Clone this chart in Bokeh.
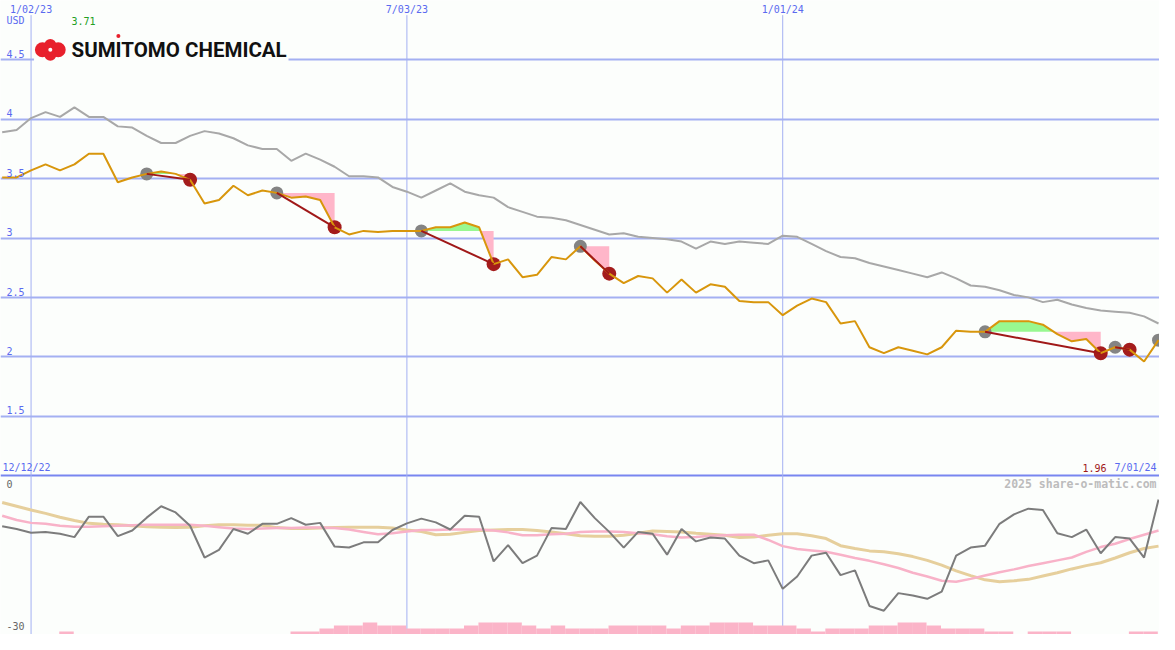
import numpy as np
from bokeh.plotting import figure
from bokeh.models import Range1d, Label
from bokeh.embed import file_html
from bokeh.resources import INLINE

# ---------------- data (weekly, week 0 = 1/02/23) ----------------
weeks = list(range(-2, 79))
price = [3.51, 3.51, 3.57, 3.62, 3.57, 3.62, 3.71, 3.71, 3.47, 3.51,
         3.54, 3.56, 3.54, 3.49, 3.29, 3.32, 3.44, 3.36, 3.40, 3.38,
         3.34, 3.35, 3.32, 3.09, 3.03, 3.06, 3.05, 3.06, 3.06, 3.06,
         3.09, 3.09, 3.13, 3.09, 2.78, 2.82, 2.67, 2.69, 2.84, 2.82,
         2.93, 2.81, 2.70, 2.62, 2.68, 2.66, 2.54, 2.65, 2.54, 2.61,
         2.59, 2.47, 2.46, 2.46, 2.35, 2.43, 2.49, 2.46, 2.28, 2.30,
         2.08, 2.03, 2.08, 2.05, 2.02, 2.08, 2.22, 2.21, 2.21, 2.30,
         2.30, 2.30, 2.27, 2.19, 2.13, 2.15, 2.03, 2.08, 2.06, 1.96,
         2.14]
avg_long = [3.89, 3.91, 4.01, 4.06, 4.02, 4.10, 4.02, 4.02, 3.94, 3.93,
            3.86, 3.80, 3.80, 3.86, 3.90, 3.88, 3.84, 3.78, 3.75, 3.75,
            3.65, 3.71, 3.66, 3.60, 3.52, 3.52, 3.51, 3.43, 3.39, 3.34,
            3.40, 3.46, 3.39, 3.36, 3.34, 3.26, 3.22, 3.18, 3.17, 3.15,
            3.11, 3.07, 3.03, 3.04, 3.01, 3.00, 2.99, 2.97, 2.91, 2.97,
            2.95, 2.97, 2.96, 2.95, 3.02, 3.01, 2.95, 2.89, 2.84, 2.83,
            2.79, 2.76, 2.73, 2.70, 2.67, 2.71, 2.66, 2.60, 2.59, 2.56,
            2.52, 2.50, 2.46, 2.48, 2.44, 2.41, 2.39, 2.38, 2.37, 2.34,
            2.28]
osc = [-7.8, -8.4, -9.2, -9.0, -9.4, -10.1, -5.8, -5.8, -9.9, -8.7,
       -6.0, -3.6, -4.9, -7.7, -14.4, -12.8, -8.4, -9.4, -7.3, -7.3,
       -6.1, -7.5, -7.1, -12.1, -12.3, -11.2, -11.2, -8.6, -7.2, -6.2,
       -7.0, -8.5, -5.6, -5.8, -15.2, -11.8, -15.6, -14.0, -8.2, -8.4,
       -2.7, -6.1, -9.0, -12.3, -9.0, -9.4, -13.8, -8.4, -11.0, -10.2,
       -10.4, -14.0, -15.6, -15.0, -21.0, -18.4, -14.0, -13.4, -18.1, -17.1,
       -24.6, -25.6, -21.9, -22.4, -23.1, -21.6, -14.0, -12.3, -11.9, -7.3,
       -5.3, -4.1, -4.4, -9.3, -10.1, -8.5, -13.5, -10.1, -10.4, -14.4,
       -2.2]
osc_fast = [-5.6, -6.5, -7.1, -7.3, -7.7, -7.9, -7.9, -7.8, -7.7, -7.6,
            -7.5, -7.5, -7.5, -7.5, -7.7, -8.0, -8.3, -8.4, -8.3, -8.2,
            -8.2, -8.1, -8.1, -8.2, -8.5, -9.0, -9.5, -9.3, -8.9, -8.6,
            -8.6, -8.5, -8.5, -8.5, -8.7, -9.1, -9.7, -9.7, -9.5, -9.4,
            -9.0, -8.9, -8.9, -9.0, -9.3, -9.5, -9.9, -10.2, -10.1, -9.8,
            -9.7, -9.6, -9.6, -10.7, -12.0, -12.6, -12.9, -13.2, -13.8, -14.5,
            -15.1, -15.8, -16.6, -17.6, -18.4, -19.3, -19.5, -18.9, -18.2, -17.5,
            -16.9, -16.2, -15.6, -15.0, -14.4, -13.2, -12.2, -11.5, -10.5, -9.6,
            -8.7]
osc_slow = [-2.8, -3.6, -4.4, -5.1, -5.9, -6.6, -7.2, -7.4, -7.5, -7.7,
            -7.9, -8.0, -8.1, -8.0, -7.7, -7.5, -7.5, -7.6, -7.6, -8.1,
            -8.3, -8.3, -8.2, -8.1, -8.0, -8.0, -8.0, -8.2, -8.6, -8.9,
            -9.6, -9.5, -9.1, -8.7, -8.6, -8.5, -8.5, -8.7, -9.0, -9.4,
            -9.8, -9.9, -9.9, -9.7, -9.3, -8.8, -8.9, -9.0, -9.3, -9.5,
            -9.7, -10.2, -10.1, -9.7, -9.4, -9.4, -9.8, -10.4, -11.9, -12.5,
            -13.0, -13.2, -13.6, -14.2, -15.0, -16.0, -17.2, -18.2, -19.1, -19.5,
            -19.3, -19.0, -18.3, -17.6, -16.8, -16.1, -15.5, -14.5, -13.4, -12.5,
            -12.0]
volume = [0, 0, 0, 0, 1, 0, 0, 0, 0, 0,
          0, 0, 0, 0, 0, 0, 0, 0, 0, 0,
          1, 1, 2, 3, 3, 4, 3, 3, 2, 2,
          2, 2, 3, 4, 4, 4, 3, 2, 3, 2,
          2, 2, 3, 3, 3, 3, 2, 3, 3, 4,
          4, 4, 3, 3, 3, 2, 1, 2, 2, 2,
          3, 3, 4, 4, 3, 2, 2, 2, 1, 1,
          0, 1, 1, 1, 0, 0, 0, 0, 1, 1,
          0]
buy_weeks = [8, 17, 27, 38, 66, 75, 78]
sell_weeks = [11, 21, 32, 40, 74, 76]
date_ticks = [0, 26, 52]
date_labels = ["1/02/23", "7/03/23", "1/01/24"]
price_ticks = [1.5, 2, 2.5, 3, 3.5, 4, 4.5]
price_labels = ["1.5", "2", "2.5", "3", "3.5", "4", "4.5"]
osc_ticks = [0, -30]
osc_labels = ["0", "-30"]
first_date, last_date = "12/12/22", "7/01/24"
max_label, min_label, currency = "3.71", "1.96", "USD"

# ---------------- geometry helpers (reference pixel -> data) ----------------
PXW = 14.654          # px per week
def X(px): return -31.0 / PXW + px / PXW
def Y(py): return 5.0 - py / 121.75
def O(py): return (501.0 - py) / 4.867
VOLPX = 3.08

BG = "#fcfefc"
GRID = "#a4b0f2"
LBL = "#5a6af0"

p = figure(width=1159, height=634, output_backend="svg", toolbar_location=None,
           x_axis_type=None, y_axis_type=None, min_border=0,
           x_range=Range1d(X(0), X(1175)), y_range=Range1d(Y(650), Y(0)))
p.extra_y_ranges = {"osc": Range1d(O(650), O(0)), "vol": Range1d(0, 650 / VOLPX)}
p.background_fill_color = BG
p.border_fill_color = BG
p.outline_line_color = None
p.grid.visible = False

def idx(k): return weeks.index(k)

# grid
p.hspan(y=price_ticks, line_color=GRID, line_width=2)
p.hspan(y=[Y(487)], line_color="#7886f0", line_width=2)
p.segment(x0=date_ticks, y0=[Y(15)] * 3, x1=date_ticks, y1=[Y(650)] * 3,
          line_color=GRID, line_width=1)

# logo
RED = "#e8202c"
p.quad(left=X(34), right=X(292), bottom=Y(64), top=Y(33), fill_color=BG, line_color=None)
p.scatter(x=[X(42.5), X(58.5)], y=[Y(50.5), Y(50.5)], size=15, marker="circle",
          fill_color=RED, line_color=None)
p.scatter(x=[X(50.5), X(50.5)], y=[Y(45.5), Y(55.5)], size=12, marker="circle",
          fill_color=RED, line_color=None)
p.scatter(x=[X(50.5)], y=[Y(50.5)], size=4, marker="circle", fill_color="white", line_color=None)
p.add_layout(Label(x=X(72), y=Y(51), text="SUMITOMO CHEMICAL", text_color="#111111",
                   text_font="Roboto", text_font_size="20.5px", text_font_style="bold",
                   text_baseline="middle"))
p.scatter(x=[X(119.5)], y=[Y(36.5)], size=4, marker="circle", fill_color=RED, line_color=None)

# signal fills
for ks, ke in zip(buy_weeks, sell_weeks):
    lvl = price[idx(ks)]
    xs, ps = [], []
    for k in range(ks, ke):
        p0, p1 = price[idx(k)], price[idx(k + 1)]
        xs.append(k); ps.append(p0)
        if (p0 - lvl) * (p1 - lvl) < 0:
            t = (lvl - p0) / (p1 - p0)
            xs.append(k + t); ps.append(lvl)
    xs.append(ke); ps.append(price[idx(ke)])
    ps = np.array(ps)
    lv = np.full(len(xs), lvl)
    p.varea(x=xs, y1=lv, y2=np.minimum(ps, lvl), fill_color="#ffb6c9")
    p.varea(x=xs, y1=lv, y2=np.maximum(ps, lvl), fill_color="#98f890")

# main lines
p.line(weeks, avg_long, line_color="#a8a8a8", line_width=2)
p.scatter(buy_weeks, [price[idx(k)] for k in buy_weeks], size=13, marker="circle",
          fill_color="#848484", line_color=None)
p.scatter(sell_weeks, [price[idx(k)] for k in sell_weeks], size=14, marker="circle",
          fill_color="#a41c1c", line_color=None)
p.line(weeks, price, line_color="#d8960c", line_width=2)
p.segment(x0=buy_weeks[:len(sell_weeks)], y0=[price[idx(k)] for k in buy_weeks[:len(sell_weeks)]],
          x1=sell_weeks, y1=[price[idx(k)] for k in sell_weeks],
          line_color="#a01818", line_width=2)

# lower panel
vk = [k for k, v in zip(weeks, volume) if v > 0]
vv = [v for v in volume if v > 0]
p.quad(left=[k - 0.05 for k in vk], right=[k + 0.95 for k in vk], bottom=0, top=vv,
       y_range_name="vol", fill_color="#fbb4c8", line_color=None)
p.line(weeks, osc_slow, y_range_name="osc", line_color="#e6cf9c", line_width=3)
p.line(weeks, osc_fast, y_range_name="osc", line_color="#f8b2c8", line_width=2.5)
p.line(weeks, osc, y_range_name="osc", line_color="#7c7c7c", line_width=2)

# texts (y given as the vertical centre of the capitals)
MONO = "DejaVu Sans Mono"
def lab(x, y, t, color=LBL, align="left", size="10px", style="normal", rng="default"):
    p.add_layout(Label(x=x, y=y, text=t, text_color=color, text_align=align,
                       text_baseline="middle", text_font=MONO, text_font_size=size,
                       text_font_style=style, y_range_name=rng))

for k, t in zip(date_ticks, date_labels):
    lab(k, Y(9), t, align="center")
lab(X(6), Y(21), currency)
lab(X(72), Y(21), max_label, color="#22a022")
for v, t in zip(price_ticks, price_labels):
    lab(X(6), v + 6 / 121.75, t)
lab(X(2), Y(479), first_date)
lab(X(1172), Y(479), last_date, align="right")
lab(X(1097), Y(479), min_label, color="#a01818")
lab(X(1172), Y(496), "2025 share-o-matic.com", color="#bcbcbc", align="right",
    size="11.5px", style="bold")
for v, t in zip(osc_ticks, osc_labels):
    lab(X(6), v + 5.5 / 4.867, t, color="#666666", rng="osc")

open("out.html", "w").write(file_html(p, INLINE))
